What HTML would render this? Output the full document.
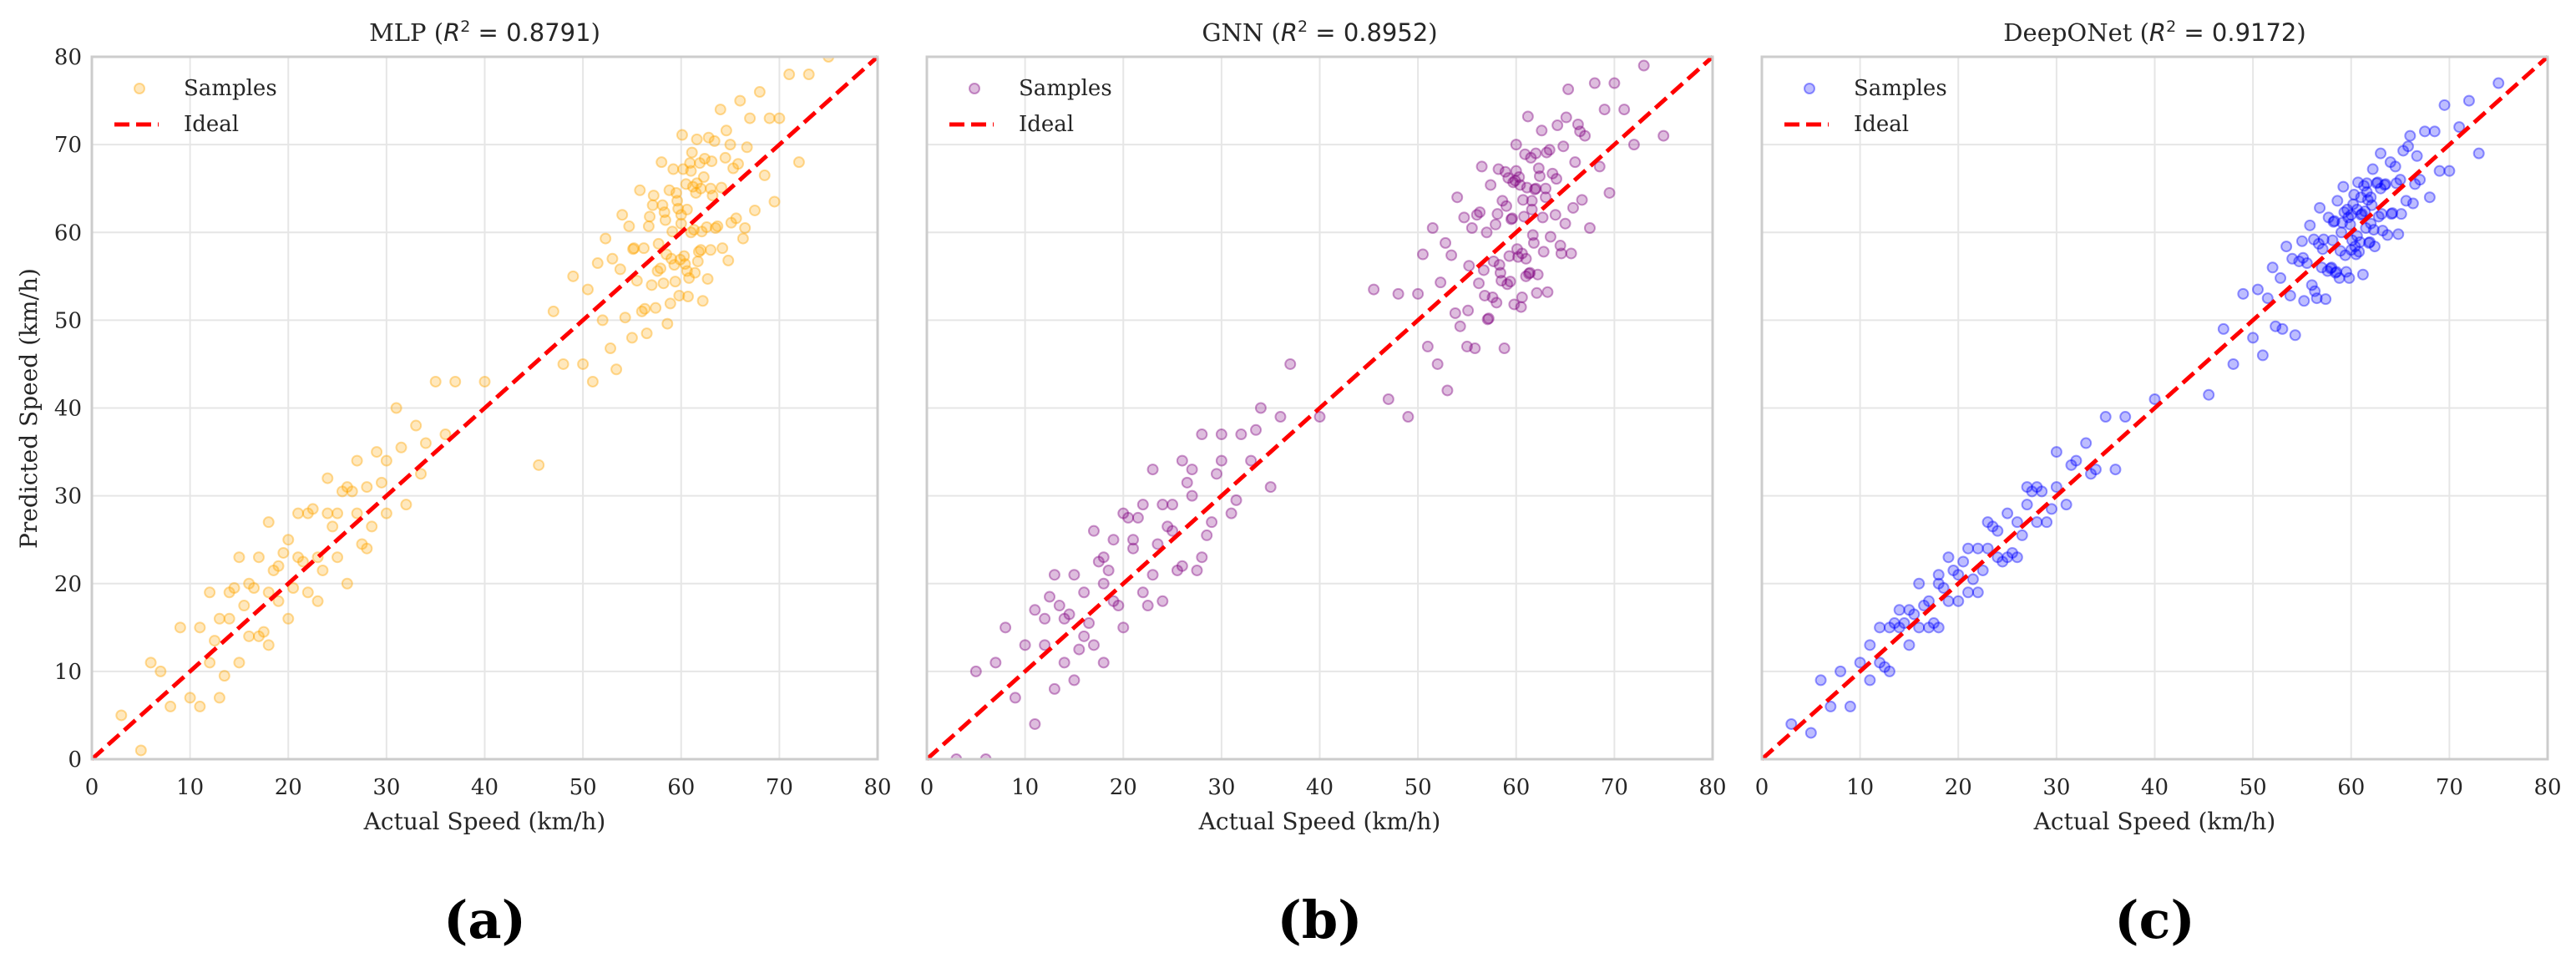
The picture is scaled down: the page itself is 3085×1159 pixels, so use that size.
<!DOCTYPE html>
<html><head><meta charset="utf-8"><style>
html,body{margin:0;padding:0;background:#fff;}
svg{display:block;font-family:"DejaVu Serif","Liberation Serif",serif;}
</style></head><body>
<svg id="fig" width="3085" height="1159" viewBox="0 0 3085 1159" xmlns="http://www.w3.org/2000/svg"></svg>
<script>
const actualSpeed=[3,5,6,7,8,9,10,11,11,12,12,13,13,14,14,15,15,16,16,17,17,18,18,18,19,19,20,20,21,21,22,22,23,23,24,24,25,25,26,26,27,27,28,28,29,30,30,31,32,33,34,35,36,37,40,
45.5,47,48,49,50,50.5,51,51.5,52,52.3,52.8,53,53.4,53.8,54,54.3,54.7,55,55.2,55.5,55.8,56,56.2,56.5,56.8,57,57.2,57.4,57.7,58,58.2,58.4,58.6,58.8,59,59.2,59.4,59.6,59.8,60,60.1,60.3,60.5,60.7,60.9,61,61.2,61.4,61.6,61.8,62,62.2,62.4,62.6,62.8,63,63.2,63.4,63.7,64,64.2,64.5,64.8,65,65.3,65.6,66,66.3,66.7,67,67.5,68,68.5,69,69.5,70,71,72,73,75,
55.1,56.3,57.1,57.9,58.3,58.9,59.1,59.5,59.9,60.2,60.4,60.6,60.8,61.1,61.3,61.5,61.7,61.9,62.1,62.3,62.7,63.1,63.5,64.1,64.6,65.1,65.8,66.5,56.7,57.6,58.1,59.3,60.0,61.0,62.0,63.0,58.5,59.7,60.6,61.6,
15.5,17.5,19.5,21.5,23.5,25.5,18.5,20.5,22.5,24.5,13.5,16.5,26.5,28.5,12.5,14.5,27.5,29.5,31.5,33.5];
const mlpResidual=[2,-4,5,3,-2,6,-3,4,-5,7,-1,3,-6,5,2,-4,8,-2,4,-3,6,1,-5,9,3,-1,5,-4,7,2,-3,6,0,-5,4,8,-2,3,-6,5,1,7,-4,3,6,-2,4,9,-3,5,2,8,1,6,3,
-12,4,-3,6,-5,3,-8,5,-2,7,-6,4,-9,2,8,-4,6,-7,3,-1,9,-5,2,-8,5,-3,7,-6,1,10,-4,3,-9,6,-2,8,-5,4,-7,2,11,-3,5,-8,7,-1,4,-6,9,-4,3,-10,6,-2,8,-5,1,7,-3,10,-6,4,-8,5,2,-4,9,-7,3,6,-5,8,-2,4,-6,3,7,-4,5,5,
3,-5,6,-2,4,-7,1,5,-3,7,-4,2,-6,8,-1,3,-5,6,-2,4,-8,5,-3,1,7,-4,2,-6,4,-2,5,-3,1,6,-4,2,-1,3,-5,4,
2,-3,4,1,-2,5,3,-1,6,2,-4,3,4,-2,1,5,-3,2,4,-1];
const gnnResidual=[-3,5,-6,4,7,-2,3,-7,6,1,4,-5,8,-3,2,6,-6,3,-2,9,-4,5,2,-7,6,-1,8,-5,3,4,7,-3,10,-2,5,-6,4,1,8,-4,3,6,-5,9,-2,4,7,-3,5,1,6,-4,3,8,-1,
8,-6,5,-10,3,7,-4,9,-7,2,6,-11,4,-3,10,-5,7,-8,1,5,-9,6,-2,11,-4,3,-7,8,-1,-6,9,-3,5,-12,4,7,-5,2,-8,10,-2,6,-9,3,8,-4,12,-6,1,-3,7,-7,4,9,-5,2,-10,6,3,-2,8,-6,5,-4,11,-8,2,6,-3,4,-7,9,-1,5,-5,7,3,-2,6,-4,
-4,6,-7,3,-2,8,-5,2,6,-3,5,-8,1,4,-6,7,-2,3,-9,5,-1,6,-4,2,-7,8,-3,5,-1,-5,4,-2,7,-6,3,1,-4,6,-3,2,
-3,5,-2,6,1,-4,3,7,-5,2,4,-1,5,-3,6,2,-6,3,-2,4];
const deeponetResidual=[1,-2,3,-1,2,-3,1,2,-2,3,-1,2,-3,1,3,-2,2,-1,4,-2,1,3,-3,2,-1,4,-2,1,3,-2,2,-3,1,4,-1,2,-2,3,1,-3,2,4,-1,3,-2,1,5,-2,2,3,-1,4,-3,2,1,
-4,2,-3,4,-2,3,-5,1,4,-3,2,-4,5,-1,3,-6,2,4,-3,1,5,-2,3,-4,6,-1,2,-5,4,-2,3,-3,5,-4,1,6,-2,3,-5,2,-1,4,-3,5,-2,3,-6,1,4,-3,2,5,-4,3,-1,6,-3,2,-4,4,-2,3,-5,1,4,-2,5,-3,2,-1,4,-4,3,-2,5,-3,1,3,-4,2,
2,-3,1,-2,3,-1,2,-4,1,3,-2,2,-3,1,4,-1,2,-3,1,-2,3,-1,2,-2,1,-3,4,-1,2,-2,1,3,-2,1,-1,2,-3,2,-1,3,
1,-2,2,-1,3,-2,1,2,-1,-2,2,1,-1,2,-2,1,3,-1,2,-1];
const modelNames=["MLP","GNN","DeepONet"];
const r2Values=["0.8791","0.8952","0.9172"];
const panelLetters=["(a)","(b)","(c)"];
const tickValues=[0,10,20,30,40,50,60,70,80];

const NS="http://www.w3.org/2000/svg";
const svg=document.getElementById("fig");
function mk(tag,attrs,parent){const e=document.createElementNS(NS,tag);for(const k in attrs)e.setAttribute(k,attrs[k]);(parent||svg).appendChild(e);return e;}
const colors=["#FFA500","#800080","#0000FF"];
const residuals=[mlpResidual,gnnResidual,deeponetResidual];
const lefts=[110,1110,2110],W=941,top0=68,bottom0=909;
for(let p=0;p<3;p++){
  const L=lefts[p];
  const xs=v=>L+v/80*W;
  const ys=v=>bottom0-v/80*(bottom0-top0);
  const g=mk("g",{});
  
  
  const cp=mk("clipPath",{id:"clip"+p},g);
  mk("rect",{x:L,y:top0,width:W,height:bottom0-top0},cp);
  tickValues.forEach(t=>{
    if(t>0&&t<80){
      const gx=mk("line",{x1:xs(t),x2:xs(t),y1:top0,y2:bottom0,stroke:"#e6e6e6","stroke-width":2},g);
      
      
      const gy=mk("line",{x1:L,x2:L+W,y1:ys(t),y2:ys(t),stroke:"#e6e6e6","stroke-width":2},g);
      
      
    }
    const tx=mk("text",{x:xs(t),y:951,"font-size":26,"text-anchor":"middle",fill:"#262626"},g);
    tx.textContent=t;
    
    
    if(p===0){
      const ty=mk("text",{x:98,y:ys(t)+9,"font-size":26,"text-anchor":"end",fill:"#262626"},g);
      ty.textContent=t;
      
      
    }
  });
  const pts=mk("g",{"clip-path":"url(#clip"+p+")"},g);
  
  
  for(let i=0;i<actualSpeed.length;i++){
    const c=mk("circle",{cx:xs(actualSpeed[i]),cy:ys(actualSpeed[i]+residuals[p][i]),r:6,fill:colors[p],"fill-opacity":0.26,stroke:colors[p],"stroke-opacity":0.4,"stroke-width":2},pts);
    
    
  }
  const ideal=mk("line",{x1:xs(0),y1:ys(0),x2:xs(80),y2:ys(80),stroke:"#ff0000","stroke-width":5,"stroke-dasharray":"18,8"},g);
  
  
  const frame=mk("rect",{x:L,y:top0,width:W,height:bottom0-top0,fill:"none",stroke:"#cccccc","stroke-width":3},g);
  
  
  const lm=mk("circle",{cx:L+57,cy:106,r:6,fill:colors[p],"fill-opacity":0.26,stroke:colors[p],"stroke-opacity":0.4,"stroke-width":2},g);
  
  
  const lt1=mk("text",{x:L+110,y:114,"font-size":26,fill:"#262626"},g);
  lt1.textContent="Samples";
  
  
  const ll=mk("line",{x1:L+27,x2:L+80,y1:149,y2:149,stroke:"#ff0000","stroke-width":5,"stroke-dasharray":"18,8"},g);
  
  
  const lt2=mk("text",{x:L+110,y:157,"font-size":26,fill:"#262626"},g);
  lt2.textContent="Ideal";
  
  
  const tt=mk("text",{x:L+W/2,y:49,"font-size":29,"text-anchor":"middle",fill:"#262626"},g);
  
  
  tt.innerHTML=modelNames[p]+' (<tspan font-family="DejaVu Sans" font-style="italic">R</tspan><tspan font-family="DejaVu Sans" font-size="19" dy="-11">2</tspan><tspan font-family="DejaVu Sans" dy="11"> = '+r2Values[p]+'</tspan>)';
  const xt=mk("text",{x:L+W/2,y:993,"font-size":28,"text-anchor":"middle",fill:"#262626"},g);
  xt.textContent="Actual Speed (km/h)";
  
  
  const pl=mk("text",{x:L+W/2,y:1123,"font-size":62,"font-weight":"bold","text-anchor":"middle",fill:"#000"},g);
  pl.textContent=panelLetters[p];
  
  
}
const yt=mk("text",{x:0,y:0,"font-size":28,"text-anchor":"middle",fill:"#262626",transform:"translate(44,489) rotate(-90)"});
yt.textContent="Predicted Speed (km/h)";


</script>
</body></html>
